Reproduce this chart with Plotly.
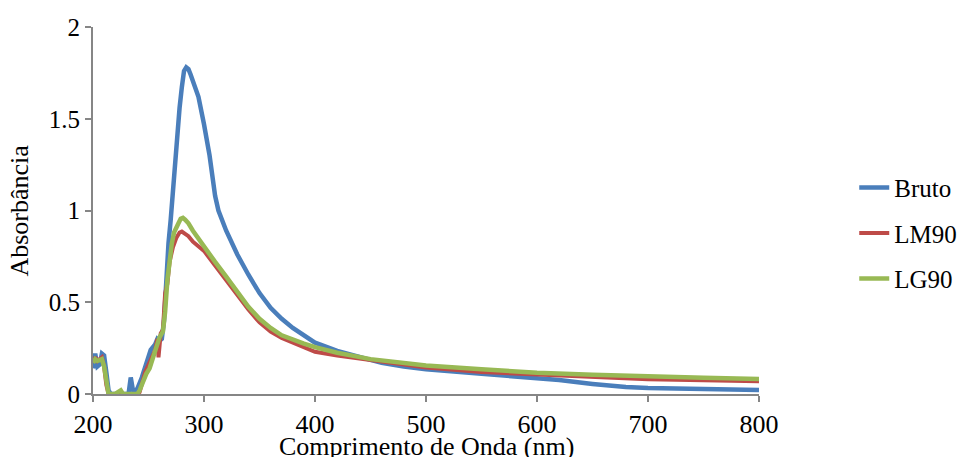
import plotly.graph_objects as go

# Bruto
wl_bruto = [200, 202, 204, 206, 208, 210, 212, 214, 216, 220, 225, 230, 232, 234, 236, 238, 240,
            244, 248, 252, 256, 258, 260, 262, 264, 266, 268, 270, 272, 274, 276, 278, 280, 282,
            284, 286, 288, 290, 292, 295, 300, 305, 310, 313, 320, 330, 340, 350, 360, 370, 380,
            390, 400, 420, 440, 460, 480, 500, 550, 600, 620, 650, 680, 700, 750, 800]
abs_bruto = [0.14, 0.22, 0.15, 0.16, 0.22, 0.21, 0.12, 0.02, 0.0, 0.0, 0.0, 0.0, 0.0, 0.09, 0.02, 0.01, 0.03,
             0.09, 0.16, 0.24, 0.27, 0.30, 0.29, 0.30, 0.40, 0.65, 0.82, 0.95, 1.12, 1.25, 1.42, 1.56, 1.67, 1.76,
             1.78, 1.77, 1.74, 1.70, 1.68, 1.62, 1.47, 1.30, 1.08, 1.00, 0.89, 0.76, 0.65, 0.55, 0.47, 0.41, 0.36,
             0.32, 0.28, 0.235, 0.20, 0.17, 0.15, 0.135, 0.11, 0.087, 0.076, 0.055, 0.038, 0.033, 0.027, 0.022]

# LM90
wl_lm90 = [200, 202, 204, 206, 208, 210, 212, 214, 220, 230, 240, 242, 244, 247, 250, 253, 256, 258, 259,
           261, 263, 265, 267, 269, 272, 275, 278, 280, 283, 286, 290, 300, 310, 320, 330, 340, 350, 360,
           370, 380, 390, 400, 420, 450, 500, 550, 600, 650, 700, 750, 800]
abs_lm90 = [0.17, 0.20, 0.18, 0.19, 0.20, 0.15, 0.05, 0.0, 0.0, 0.0, 0.0, 0.01, 0.06, 0.12, 0.16, 0.20, 0.24, 0.30, 0.20,
            0.33, 0.35, 0.55, 0.60, 0.72, 0.80, 0.85, 0.88, 0.885, 0.875, 0.86, 0.83, 0.78, 0.70, 0.62, 0.54, 0.46, 0.39, 0.34,
            0.305, 0.28, 0.25, 0.23, 0.21, 0.185, 0.145, 0.12, 0.105, 0.09, 0.08, 0.075, 0.07]

# LG90
wl_lg90 = [200, 202, 204, 206, 208, 210, 212, 214, 220, 225, 227, 240, 242, 245, 248, 251, 254, 257, 260,
           263, 265, 267, 269, 271, 273, 275, 277, 279, 281, 283, 286, 290, 300, 310, 320, 330, 340, 350,
           360, 370, 380, 390, 400, 420, 450, 500, 550, 600, 650, 700, 750, 800]
abs_lg90 = [0.17, 0.19, 0.18, 0.185, 0.19, 0.15, 0.08, 0.0, 0.0, 0.02, 0.0, 0.0, 0.02, 0.07, 0.11, 0.14, 0.20, 0.26, 0.31,
            0.34, 0.45, 0.62, 0.75, 0.82, 0.88, 0.90, 0.93, 0.955, 0.96, 0.95, 0.93, 0.89, 0.80, 0.72, 0.64, 0.555, 0.475, 0.41,
            0.36, 0.32, 0.295, 0.275, 0.255, 0.225, 0.19, 0.155, 0.135, 0.116, 0.105, 0.095, 0.088, 0.082]

x_ticks = [200, 300, 400, 500, 600, 700, 800]
y_ticks = [0, 0.5, 1, 1.5, 2]
y_tick_labels = ["0", "0.5", "1", "1.5", "2"]
x_title = "Comprimento de Onda (nm)"
y_title = "Absorbância"

FONT = "'Liberation Serif', 'Times New Roman', Times, 'DejaVu Serif', serif"
LEGEND_FONT = "Times New Roman, Times, serif"

fig = go.Figure()
fig.add_trace(go.Scatter(x=wl_bruto, y=abs_bruto, mode="lines", name="Bruto", legendgroup="a",
                         line=dict(color="#4A7EBB", width=4.5)))
fig.add_trace(go.Scatter(x=wl_lm90, y=abs_lm90, mode="lines", name="LM90", legendgroup="b",
                         line=dict(color="#BE4B48", width=4)))
fig.add_trace(go.Scatter(x=wl_lg90, y=abs_lg90, mode="lines", name="LG90", legendgroup="c",
                         line=dict(color="#98B954", width=4.5)))

fig.update_layout(
    width=959, height=457,
    margin=dict(l=93, r=200, t=27, b=63, autoexpand=False),
    plot_bgcolor="white", paper_bgcolor="white",
    font=dict(family=FONT, size=26, color="black"),
    showlegend=True,
    legend=dict(x=1.143, y=0.625, xanchor="left", yanchor="top",
                font=dict(size=25, color="black", family=LEGEND_FONT), tracegroupgap=10,
                bgcolor="rgba(0,0,0,0)"),
    xaxis=dict(range=[200, 800], tickvals=x_ticks, ticks="outside", ticklen=6, tickwidth=2,
               tickcolor="#868686", showline=True, linecolor="#868686", linewidth=2,
               showgrid=False, zeroline=False, tickfont=dict(size=26, family=FONT),
               automargin=False),
    yaxis=dict(range=[0, 2], tickvals=y_ticks, ticktext=y_tick_labels, ticks="outside", ticklen=6,
               tickwidth=2, tickcolor="#868686", showline=True, linecolor="#868686", linewidth=2,
               showgrid=False, zeroline=False, tickfont=dict(size=25, family=FONT),
               automargin=False),
    annotations=[
        dict(text=x_title, xref="paper", yref="paper", x=0.5, y=-0.143, xanchor="center",
             yanchor="middle", showarrow=False, font=dict(size=26, family=FONT)),
        dict(text=y_title, xref="paper", yref="paper", x=-0.111, y=0.5, xanchor="center",
             yanchor="middle", textangle=-90, showarrow=False, font=dict(size=26, family=FONT)),
    ],
)

fig.write_html("out.html", config={"displayModeBar": False},
               post_script="document.body.style.margin='0';document.body.style.overflow='hidden';")
